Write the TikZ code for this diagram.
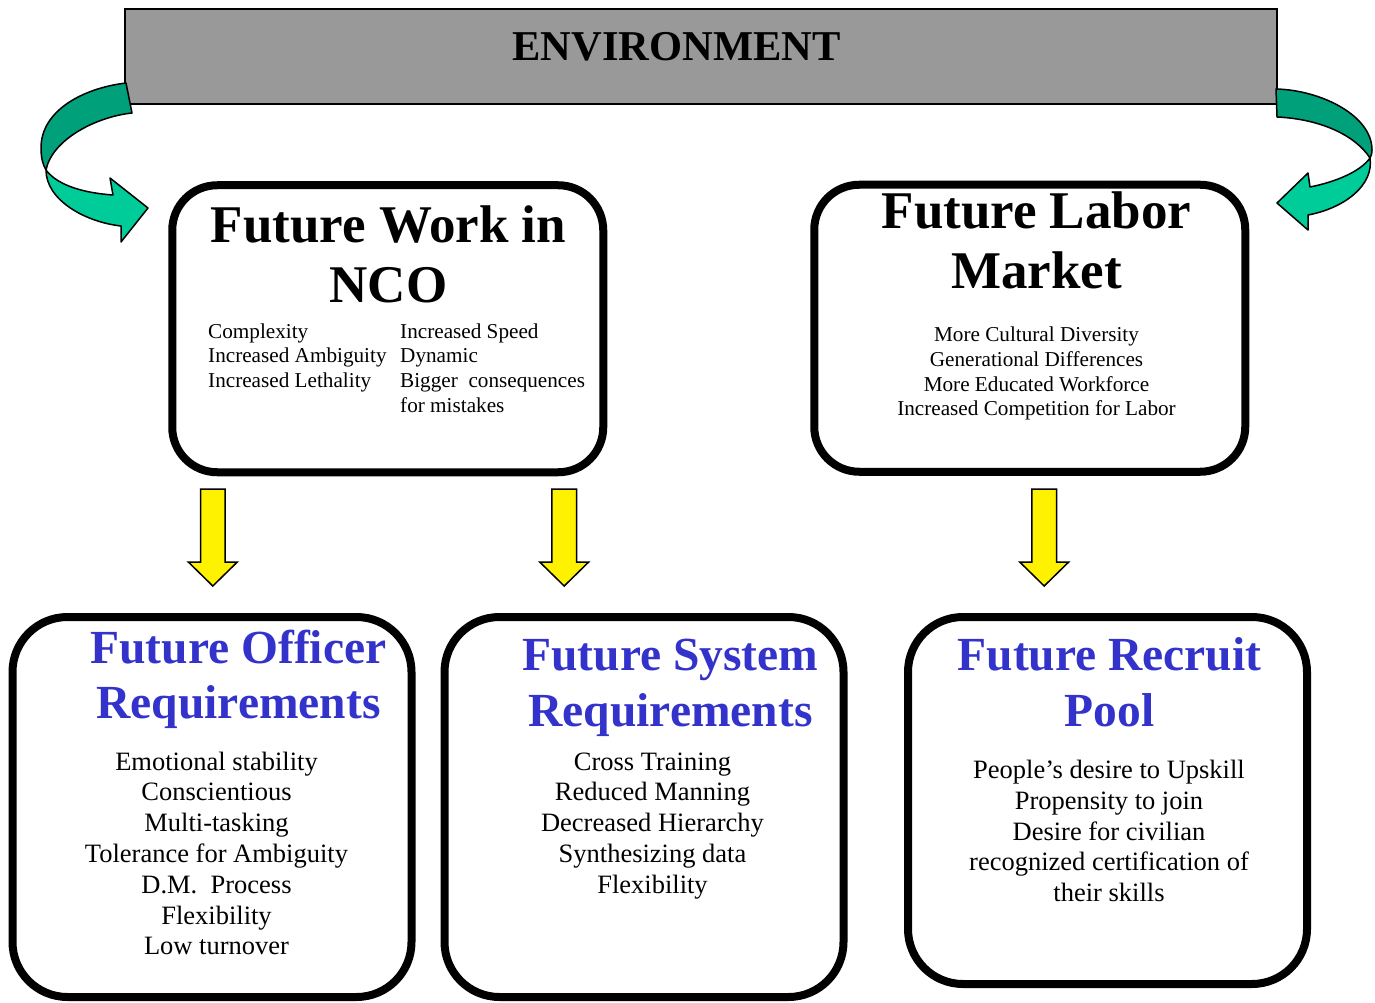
\documentclass[tikz,border=0pt]{standalone}
\usepackage{fontspec}
\setmainfont{Liberation Serif}

\definecolor{envgray}{RGB}{153,153,153}
\definecolor{titleblue}{RGB}{51,51,204}
\definecolor{ribbondark}{RGB}{0,160,122}
\definecolor{ribbonlight}{RGB}{0,204,153}

\begin{document}
\begin{tikzpicture}[x=1pt,y=-1pt,
  bigbox/.style={draw,line width=8pt,rounded corners=45pt,minimum width=431pt,minimum height=287pt,inner sep=0pt},
  reqbox/.style={draw,line width=8pt,rounded corners=55pt,minimum width=399pt,inner sep=0pt},
  blackhead/.style={font=\bfseries\fontsize{53}{60}\selectfont,align=center,anchor=north,inner sep=0pt},
  bluehead/.style={font=\bfseries\fontsize{47.5}{55.5}\selectfont,text=titleblue,align=center,anchor=north,inner sep=0pt},
  smalllist/.style={font=\fontsize{21.2}{24.7}\selectfont,inner sep=0pt},
  biglist/.style={font=\fontsize{26.5}{30.8}\selectfont,align=center,anchor=north,inner sep=0pt},
  yellowarrow/.style={fill=yellow,draw=black,line width=1.5pt,line join=miter},
  ribbon/.style={draw=black,line width=1.5pt,line join=round}]
\useasboundingbox (0,0) rectangle (1375,1003);

\node[draw,line width=1.5pt,fill=envgray,minimum width=1152pt,minimum height=95pt,inner sep=0pt] (env) at (701,56.5) {};
\node[font=\bfseries\fontsize{42.5}{50}\selectfont,anchor=base,inner sep=0pt] (envtext) at (676.5,60.5) {ENVIRONMENT};

\draw[ribbon,fill=ribbondark] (126,83) .. controls (84,88) and (41,110) .. (41,148)
  .. controls (41,158) and (43,165) .. (46,170) .. controls (52,140) and (95,117) .. (132,113) -- cycle;
\draw[ribbon,fill=ribbonlight] (46,170) .. controls (46,200) and (85,222) .. (121,226)
  -- (121,242) -- (148,208) -- (110,178) -- (113,195) .. controls (85,193) and (58,186) .. (46,170) -- cycle;
\draw[ribbon,fill=ribbondark] (1276,89) .. controls (1320,90) and (1372,115) .. (1372,150)
  .. controls (1372,154) and (1371,156) .. (1370,158) .. controls (1355,135) and (1320,119) .. (1277,117) -- cycle;
\draw[ribbon,fill=ribbonlight] (1370,158) .. controls (1374,185) and (1345,208) .. (1308,215)
  -- (1308,230) -- (1277,203) -- (1308,173) -- (1310,187) .. controls (1335,182) and (1360,172) .. (1370,158) -- cycle;

\node[bigbox] (nco) at (387.75,328.75) {};
\node[bigbox] (labor) at (1029.75,328.25) {};
\node[reqbox,minimum height=380pt] (officer) at (212,807) {};
\node[reqbox,minimum height=380pt] (system) at (644,807) {};
\node[reqbox,minimum height=367pt] (recruit) at (1107.5,800.5) {};

\node[blackhead] (ncohead) at (388.5,200) {\strut Future Work in\\NCO};
\node[smalllist,align=left,anchor=north west] (ncoleft) at (208,320.7) {\strut Complexity\\Increased Ambiguity\\Increased Lethality};
\node[smalllist,align=left,anchor=north west] (ncoright) at (400,320.7) {\strut Increased Speed\\Dynamic\\Bigger\ \ consequences\\for mistakes};

\node[blackhead] (laborhead) at (1036.5,186.3) {\strut Future Labor\\Market};
\node[smalllist,align=center,anchor=north] (laborlist) at (1036.5,324.4) {\strut More Cultural Diversity\\Generational Differences\\More Educated Workforce\\Increased Competition for Labor};

\node[bluehead] (officerhead) at (238.5,624.2) {\strut Future Officer\\Requirements};
\node[biglist] (officerlist) at (216.5,748.4) {\strut Emotional stability\\Conscientious\\Multi-tasking\\Tolerance for Ambiguity\\D.M.\ \ Process\\Flexibility\\Low turnover};

\node[bluehead] (systemhead) at (670.5,631.8) {\strut Future System\\Requirements};
\node[biglist] (systemlist) at (652.5,748.4) {\strut Cross Training\\Reduced Manning\\Decreased Hierarchy\\Synthesizing data\\Flexibility};

\node[bluehead] (recruithead) at (1109.5,631.8) {\strut Future Recruit\\Pool};
\node[biglist] (recruitlist) at (1109,756.7) {\strut People’s desire to Upskill\\Propensity to join\\Desire for civilian\\recognized certification of\\their skills};

\foreach \x in {212.8,564.2,1044.2}
  \draw[yellowarrow] (\x-12.3,489) -- (\x+12.3,489) -- (\x+12.3,562) -- (\x+24.5,562)
    -- (\x,586) -- (\x-24.5,562) -- (\x-12.3,562) -- cycle;

\end{tikzpicture}
\end{document}
